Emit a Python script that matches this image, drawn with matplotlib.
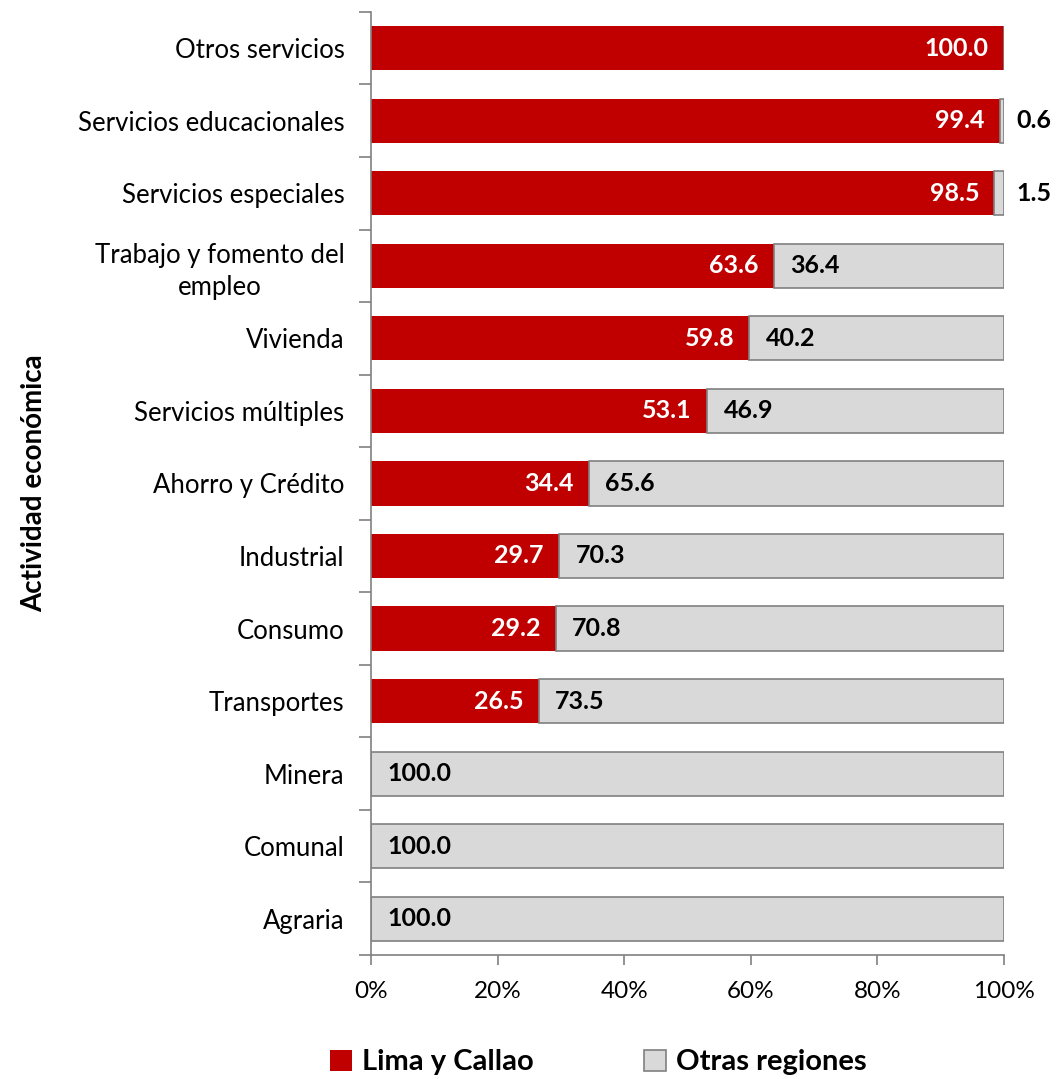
import matplotlib.pyplot as plt
import numpy as np

plt.rcParams['font.family'] = ['Lato', 'DejaVu Sans']

categorias = ["Otros servicios", "Servicios educacionales", "Servicios especiales",
              "Trabajo y fomento del\nempleo", "Vivienda", "Servicios múltiples",
              "Ahorro y Crédito", "Industrial", "Consumo", "Transportes",
              "Minera", "Comunal", "Agraria"]
lima = [100.0, 99.4, 98.5, 63.6, 59.8, 53.1, 34.4, 29.7, 29.2, 26.5, 0.0, 0.0, 0.0]
otras = [0.0, 0.6, 1.5, 36.4, 40.2, 46.9, 65.6, 70.3, 70.8, 73.5, 100.0, 100.0, 100.0]

rojo = '#C00000'
gris = '#D9D9D9'

fig = plt.figure(figsize=(10.59, 10.79), dpi=100)
ax = fig.add_axes([0.3503, 0.1149, 0.948 - 0.3503, 0.989 - 0.1149])

y = np.arange(len(categorias))[::-1]
alto = 0.61

ax.barh(y, lima, height=alto, color=rojo, edgecolor='none', label='Lima y Callao')
ax.barh(y, otras, left=lima, height=alto, color=gris, edgecolor='#808080',
        linewidth=1.2, label='Otras regiones')

for i in range(len(categorias)):
    if lima[i] > 0:
        ax.text(lima[i] - 2.4, y[i], "%.1f" % lima[i], ha='right', va='center',
                color='white', fontsize=18, fontweight='bold')
    if otras[i] > 0:
        if otras[i] < 5:
            x = 100 + 1.9
        else:
            x = lima[i] + 2.6
        ax.text(x, y[i], "%.1f" % otras[i], ha='left', va='center',
                color='black', fontsize=18, fontweight='bold')

ax.set_xlim(0, 100)
ax.set_ylim(-0.5, len(categorias) - 0.5)
ax.set_xticks([0, 20, 40, 60, 80, 100])
ax.set_xticklabels(['0%', '20%', '40%', '60%', '80%', '100%'], fontsize=17.5)
ax.set_yticks(y)
ax.set_yticklabels(categorias, fontsize=18.5, multialignment='center', linespacing=1.35)
ax.tick_params(axis='y', length=0, pad=19)
ax.set_yticks(np.arange(-0.5, len(categorias), 1.0), minor=True)
ax.tick_params(axis='y', which='minor', length=9, color='#808080', width=1.2)
ax.tick_params(axis='x', length=7, color='#808080', width=1.2, pad=12)

for s in ['top', 'right']:
    ax.spines[s].set_visible(False)
for s in ['left', 'bottom']:
    ax.spines[s].set_color('#808080')
    ax.spines[s].set_linewidth(1.2)

ax.set_ylabel("Actividad económica", fontsize=20, fontweight='bold', labelpad=22)

fig.legend(loc='lower center', bbox_to_anchor=(0.565, -0.021), ncol=2, frameon=False,
           prop={'size': 21, 'weight': 'bold'}, handlelength=0.75, handleheight=0.75,
           columnspacing=3.8, handletextpad=0.35)

fig.savefig('out.png', dpi=100)
